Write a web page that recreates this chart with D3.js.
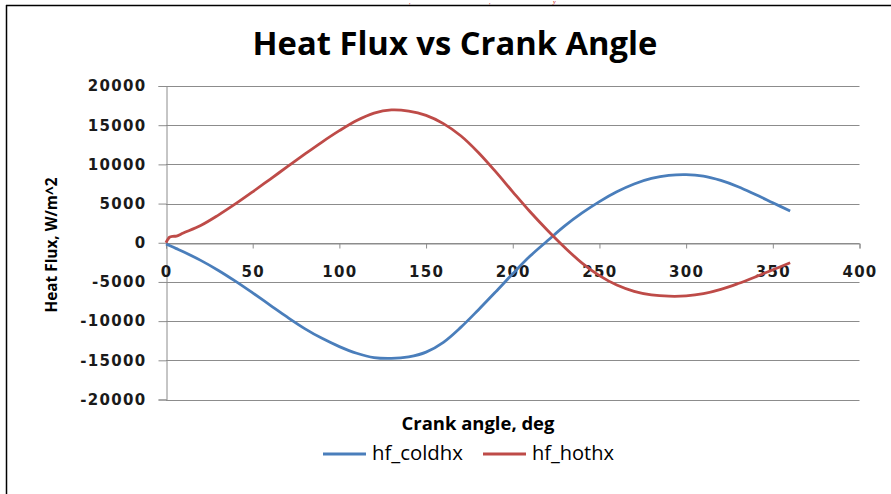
<!DOCTYPE html>
<html><head><meta charset="utf-8">
<script src="https://cdn.jsdelivr.net/npm/d3@7"></script>
<style>
html,body{margin:0;padding:0;background:#fff;}
svg{display:block;}
</style>
</head><body>
<svg id="c" width="891" height="494"></svg>
<script>
// ---- data ----
const angles = [0,1,2,4,6,10,20,30,40,50,60,70,80,90,100,110,120,130,140,150,160,170,180,190,200,210,220,230,240,250,260,270,280,290,300,310,320,330,340,350,360];
const hfColdhx = [-150,-250,-350,-550,-750,-1150,-2250,-3500,-4900,-6400,-7950,-9500,-10950,-12200,-13250,-14100,-14650,-14750,-14550,-13950,-12700,-10800,-8600,-6300,-3950,-1700,250,2150,3800,5250,6500,7500,8200,8600,8700,8500,7950,7150,6150,5100,4050];
const hfHothx = [0,400,700,820,850,1250,2200,3500,4950,6500,8100,9700,11300,12850,14300,15600,16550,16950,16800,16250,15200,13650,11550,9100,6500,3950,1600,-600,-2600,-4200,-5400,-6200,-6650,-6820,-6780,-6500,-5950,-5200,-4350,-3450,-2560];
const seriesNames = ["hf_coldhx","hf_hothx"];
const seriesColors = ["#4A7EBB","#BE4B48"];
const xTicks = [0,50,100,150,200,250,300,350,400];
const yTicks = [-20000,-15000,-10000,-5000,0,5000,10000,15000,20000];
const titleText = "Heat Flux vs Crank Angle";
const xLabel = "Crank angle, deg";
const yLabel = "Heat Flux, W/m^2";
const topFragments = [",", ",", "y"];

const svg = d3.select("#c");

// frame
svg.append("line").attr("x1",6).attr("y1",5.5).attr("x2",891).attr("y2",5.5).attr("stroke","#000").attr("stroke-width",1.5);
svg.append("line").attr("x1",6.5).attr("y1",5).attr("x2",6.5).attr("y2",494).attr("stroke","#000").attr("stroke-width",1.5);

// small red text fragments at the very top
const fragX = [409,489,553];
svg.selectAll("text.frag").data(topFragments).enter().append("text")
  .attr("class","frag").attr("x",(d,i)=>fragX[i]).attr("y",4)
  .attr("font-family","Liberation Serif").attr("font-style","italic").attr("font-size",6)
  .attr("fill","#c00000").text(d=>d);

const x = d3.scaleLinear().domain([0,400]).range([166,859.5]);
const y = d3.scaleLinear().domain([-20000,20000]).range([399.5,86]);

// gridlines
svg.append("g").selectAll("line").data(yTicks).enter().append("line")
  .attr("x1",166).attr("x2",859.5)
  .attr("y1",d=>Math.round(y(d))+0.5).attr("y2",d=>Math.round(y(d))+0.5)
  .attr("stroke","#8c8c8c").attr("stroke-width",1);

const fmt = d => String(d);
const tickFont = sel => sel.attr("font-family","DejaVu Sans").attr("font-weight","bold")
  .attr("font-size",15).attr("letter-spacing",1.3).attr("fill","#1a1a1a");

// y axis
const yAxis = d3.axisLeft(y).tickValues(yTicks).tickSize(8).tickFormat(fmt);
const gy = svg.append("g").attr("transform","translate(166.5,0)").call(yAxis);
gy.select(".domain").attr("stroke","#8c8c8c");
gy.selectAll(".tick line").attr("stroke","#8c8c8c");
gy.selectAll(".tick text").attr("x",-20).call(tickFont);

// x axis at y=0
const xAxis = d3.axisBottom(x).tickValues(xTicks).tickSize(5).tickFormat(fmt);
const gx = svg.append("g").attr("transform",`translate(0,${Math.round(y(0))+0.5})`).call(xAxis);
gx.select(".domain").attr("stroke","#8c8c8c");
gx.selectAll(".tick line").attr("stroke","#8c8c8c");
gx.selectAll(".tick text").attr("y",23).call(tickFont);

// lines
const allSeries = [hfColdhx, hfHothx];
const line = d3.line().x((d,i)=>x(angles[i])).y(d=>y(d)).curve(d3.curveCatmullRom.alpha(0.5));
svg.append("g").selectAll("path").data(allSeries).enter().append("path")
  .attr("d",d=>line(d)).attr("fill","none")
  .attr("stroke",(d,i)=>seriesColors[i]).attr("stroke-width",2.8).attr("stroke-linejoin","round");

// title
function fitText(sel, target){
  const w = sel.node().getComputedTextLength();
  const fs = parseFloat(sel.attr("font-size"));
  sel.attr("font-size", fs*target/w);
}
const t = svg.append("text").attr("x",455).attr("y",55).attr("text-anchor","middle")
  .attr("font-family","Open Sans").attr("font-weight","bold").attr("font-size",28).attr("fill","#000").text(titleText);
fitText(t,405);

// y label
const yl = svg.append("text").attr("transform","translate(57,245) rotate(-90)").attr("text-anchor","middle")
  .attr("font-family","Open Sans").attr("font-weight","bold").attr("font-size",14).attr("fill","#000").text(yLabel);
fitText(yl,135);

// x label
const xl = svg.append("text").attr("x",478).attr("y",430).attr("text-anchor","middle")
  .attr("font-family","Open Sans").attr("font-weight","bold").attr("font-size",15).attr("fill","#000").text(xLabel);
fitText(xl,153);

// legend
const legX = [323,483];
const legTextW = [91,82];
const lg = svg.append("g");
seriesNames.forEach((n,i)=>{
  lg.append("line").attr("x1",legX[i]).attr("x2",legX[i]+43).attr("y1",454).attr("y2",454)
    .attr("stroke",seriesColors[i]).attr("stroke-width",2.8);
  const tt = lg.append("text").attr("x",legX[i]+49).attr("y",459.5)
    .attr("font-family","Open Sans").attr("font-size",15).attr("fill","#000").text(n);
  fitText(tt,legTextW[i]);
});
</script>
</body></html>
